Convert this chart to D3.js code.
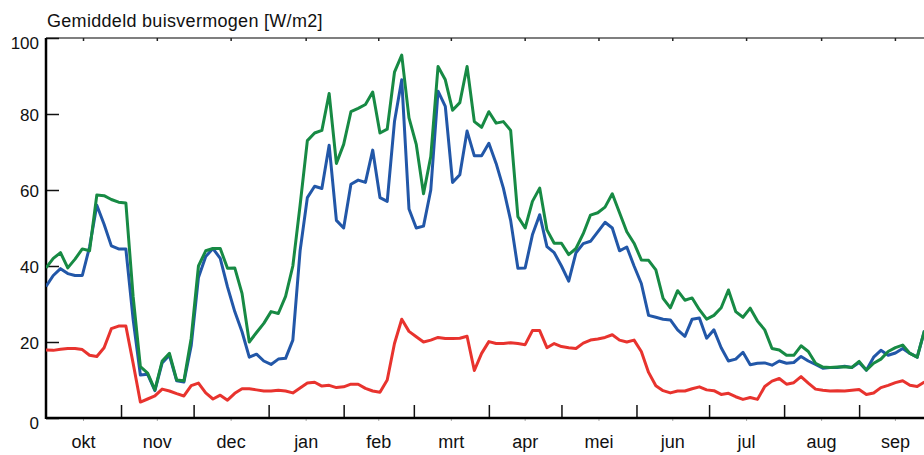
<!DOCTYPE html>
<html>
<head>
<meta charset="utf-8">
<script src="https://cdn.jsdelivr.net/npm/d3@7"></script>
<style>
    body { margin: 0; background: #fff; }
    text { font-family: "Liberation Sans", Arial, sans-serif; fill: #111; }
</style>
</head>
<body>
<div id="chart"></div>
<script>
// Data - one value every 3 days, starting 1 okt
// ==================================================================
const stepDays = 3;

const monthLabels = ["okt", "nov", "dec", "jan", "feb", "mrt", "apr", "mei", "jun", "jul", "aug", "sep"];
const yTicks = [0, 20, 40, 60, 80, 100];

const greenValues = [
    39.5, 42, 43.5, 39.5, 41.8, 44.5, 44, 58.7, 58.5, 57.5, 56.8, 56.6,
    32, 13.5, 11.8, 7.4, 15, 17, 10, 9.8, 21, 40, 44, 44.6,
    44.6, 39.4, 39.5, 32.8, 20, 22.5, 24.9, 28, 27.5, 32, 40, 56,
    73, 75, 75.7, 85.4, 67, 72, 80.6, 81.5, 82.5, 85.8, 75, 76,
    91, 95.5, 79, 72, 59, 68.8, 92.5, 89, 81, 83, 92.5, 78,
    76.5, 80.6, 77.6, 78, 75.7, 53, 50, 57, 60.5, 49.5, 46, 46,
    43, 44.6, 48.5, 53.4, 54, 55.5, 59, 54, 49, 46, 41.6, 41.5,
    39, 31.5, 29, 33.5, 31, 31.6, 28.5, 26, 27, 29, 33.7, 28,
    26.5, 28.9, 25.5, 23.2, 18.3, 17.9, 16.5, 16.5, 19, 17.5, 14.4, 13.4,
    13.3, 13.4, 13.5, 13.3, 14.9, 12.6, 14.4, 15.5, 17.5, 18.5, 19.2, 17,
    16, 23
];

const blueValues = [
    34.6, 37.5, 39.3, 38, 37.5, 37.5, 45, 56, 51, 45.3, 44.5, 44.5,
    26, 11.3, 11.5, 7.2, 14.5, 16.5, 9.8, 9.5, 19, 37, 42.5, 44.6,
    42, 34.5, 28, 22.7, 16, 16.8, 15, 14.1, 15.5, 15.7, 20.5, 44,
    58, 61, 60.4, 71.8, 52, 50, 61.5, 62.6, 62, 70.5, 58, 57,
    78, 89, 55, 50, 50.5, 60, 86, 82, 62, 64, 75.5, 69,
    69, 72.3, 67, 60.5, 52, 39.4, 39.5, 48.2, 53.5, 45.1, 43.5, 40,
    36, 43.5, 45.9, 46.5, 49, 51.5, 50, 44, 45, 40, 35.4, 27,
    26.5, 26, 25.8, 23.2, 21.5, 26, 26.3, 21, 23.2, 18.5, 15, 15.5,
    17.3, 14, 14.4, 14.5, 13.9, 15, 14.4, 14.6, 16.2, 15, 14.1, 13.1,
    13.3, 13.3, 13.6, 13.3, 14.6, 12.6, 16, 17.8, 16.5, 17.1, 18.3, 17,
    16, 23
];

const redValues = [
    17.9, 17.8, 18.1, 18.3, 18.3, 18, 16.5, 16.2, 18.5, 23.5, 24.2, 24.2,
    14.4, 4.2, 5, 5.8, 7.6, 7.1, 6.4, 5.8, 8.5, 9.2, 6.6, 5,
    6, 4.7, 6.5, 7.7, 7.7, 7.4, 7.1, 7.1, 7.3, 7.1, 6.6, 7.9,
    9.2, 9.4, 8.4, 8.6, 8, 8.2, 8.9, 8.9, 7.8, 7.1, 6.8, 10,
    19.6, 26, 22.8, 21.4, 20, 20.5, 21.2, 20.9, 20.9, 21, 21.5, 12.5,
    17, 20.1, 19.6, 19.6, 19.8, 19.6, 19.3, 23, 23, 18.5, 19.6, 18.8,
    18.5, 18.3, 19.7, 20.5, 20.8, 21.2, 21.9, 20.5, 20, 20.5, 17.5, 12,
    8.5, 7.2, 6.6, 7.1, 7.1, 7.7, 8.2, 7.4, 7.2, 6.2, 6.5, 5.6,
    4.9, 5.4, 4.9, 8.3, 9.7, 10.4, 8.9, 9.3, 10.9, 9.2, 7.6, 7.3,
    7.1, 7.2, 7.1, 7.3, 7.5, 6.2, 6.6, 8, 8.6, 9.3, 9.8, 8.6,
    8.3, 9.5
];

// Layout
// ==================================================================
const width = 924,
    height = 455,
    plot = {left: 46, top: 38, bottom: 418, pxPerDay: 2.42};

const startDate = new Date(2011, 9, 1),
    endDate = new Date(2012, 9, 1);

// Scales
// ==================================================================
let xScale = d3.scaleTime()
    .domain([startDate, endDate])
    .range([plot.left, plot.left + plot.pxPerDay * d3.timeDay.count(startDate, endDate)]);

let yScale = d3.scaleLinear()
    .domain([0, 100])
    .range([plot.bottom, plot.top]);

// Add svg
// ==================================================================
let svg = d3.select("#chart")
    .append("svg")
        .attr("width", width)
        .attr("height", height);

svg.append("defs").append("clipPath")
        .attr("id", "plotclip")
    .append("rect")
        .attr("x", plot.left)
        .attr("y", plot.top - 5)
        .attr("width", width - plot.left)
        .attr("height", plot.bottom - plot.top + 5);

// Title
svg.append("text")
    .attr("x", 47)
    .attr("y", 27)
    .attr("font-size", "18px")
    .attr("letter-spacing", "0.3px")
    .text("Gemiddeld buisvermogen [W/m2]");

// Axes
// ==================================================================
const monthStarts = d3.timeMonth.range(startDate, endDate);
const monthMids = monthStarts.map(d => new Date((+d + +d3.timeMonth.offset(d, 1)) / 2));

// top border with small mid-month marks
svg.append("line")
    .attr("x1", plot.left).attr("x2", width)
    .attr("y1", plot.top).attr("y2", plot.top)
    .attr("stroke", "#555")
    .attr("stroke-width", 1.5);

svg.selectAll("line.topmark")
    .data(monthMids)
    .enter()
    .append("line")
        .attr("class", "topmark")
        .attr("x1", d => xScale(d)).attr("x2", d => xScale(d))
        .attr("y1", plot.top).attr("y2", plot.top + 3)
        .attr("stroke", "#222")
        .attr("stroke-width", 1.5);

svg.selectAll("line.botmark")
    .data(monthMids)
    .enter()
    .append("line")
        .attr("class", "botmark")
        .attr("x1", d => xScale(d)).attr("x2", d => xScale(d))
        .attr("y1", plot.bottom).attr("y2", plot.bottom + 3)
        .attr("stroke", "#aaa")
        .attr("stroke-width", 1);

// month boundary ticks (inward)
let xAxis = svg.append("g")
    .attr("transform", "translate(0," + plot.bottom + ")")
    .call(d3.axisBottom(xScale)
        .tickValues(monthStarts.slice(1))
        .tickSizeInner(-13)
        .tickSizeOuter(0)
        .tickFormat(""));
xAxis.select(".domain").remove();
xAxis.selectAll(".tick line").attr("stroke", "#111").attr("stroke-width", 1.5);

// month labels
svg.selectAll("text.month")
    .data(monthMids)
    .enter()
    .append("text")
        .attr("class", "month")
        .attr("x", d => xScale(d))
        .attr("y", 448)
        .attr("text-anchor", "middle")
        .attr("font-size", "18px")
        .text((d, i) => monthLabels[i]);

let yAxis = svg.append("g")
    .attr("transform", "translate(" + plot.left + ",0)")
    .call(d3.axisLeft(yScale)
        .tickValues(yTicks)
        .tickSizeInner(-13)
        .tickSizeOuter(0)
        .tickPadding(7)
        .tickFormat(d3.format("d")));
yAxis.select(".domain").remove();
yAxis.selectAll(".tick line").attr("stroke", "#111").attr("stroke-width", 1.5);
yAxis.selectAll(".tick text")
    .attr("font-size", "17px")
    .attr("font-family", "Liberation Sans, Arial, sans-serif")
    .attr("fill", "#111")
    .attr("dy", d => (d === 0 || d === 100) ? "0.62em" : "0.36em");

// axis lines
svg.append("line")
    .attr("x1", plot.left).attr("x2", plot.left)
    .attr("y1", plot.top).attr("y2", plot.bottom + 1)
    .attr("stroke", "#000")
    .attr("stroke-width", 2.5);

svg.append("line")
    .attr("x1", plot.left).attr("x2", width)
    .attr("y1", plot.bottom).attr("y2", plot.bottom)
    .attr("stroke", "#000")
    .attr("stroke-width", 2.5);

// Lines
// ==================================================================
const series = [
    {name: "red", values: redValues, color: "#e8332e"},
    {name: "blue", values: blueValues, color: "#2257a8"},
    {name: "green", values: greenValues, color: "#178a44"}
];

let line = d3.line()
    .x((d, i) => xScale(d3.timeDay.offset(startDate, i * stepDays)))
    .y(d => yScale(d));

svg.append("g")
        .attr("clip-path", "url(#plotclip)")
    .selectAll("path.series")
    .data(series)
    .enter()
    .append("path")
        .attr("class", "series")
        .attr("fill", "none")
        .attr("stroke", d => d.color)
        .attr("stroke-width", 3)
        .attr("stroke-linejoin", "round")
        .attr("d", d => line(d.values));
</script>
</body>
</html>
